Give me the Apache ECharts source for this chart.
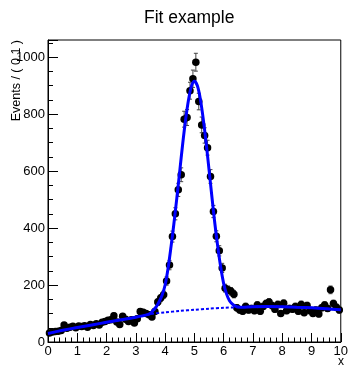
<!DOCTYPE html>
<html><head><meta charset="utf-8">
<script src="https://cdn.jsdelivr.net/npm/echarts@6/dist/echarts.min.js"></script>
<style>html,body{margin:0;padding:0;background:#fff}#c{width:351px;height:367px}</style>
</head><body><div id="c"></div>
<script>
// ---- data ----
const titleText = 'Fit example';
const yTitle = 'Events / ( 0.1 )';
const xTitle = 'x';
const binWidth = 0.1;
const xMin = 0, xMax = 10;
const yMin = 0, yMax = 1060;
const xTickLabels = [0,1,2,3,4,5,6,7,8,9,10];
const yTickLabels = [0,200,400,600,800,1000];
// event counts per bin (100 bins of 0.1)
const counts = [
  32,35,37,38,40,60,48,52,55,50,
  56,54,57,52,61,58,64,60,69,72,
  76,78,92,70,61,90,80,72,78,67,
  82,107,104,100,96,88,107,140,154,166,
  214,270,370,450,534,587,782,788,882,924,
  982,844,762,725,682,581,458,371,320,260,
  189,183,178,168,120,112,108,125,112,118,
  110,130,108,125,135,140,128,115,132,100,
  136,110,118,115,125,108,132,103,128,110,
  100,112,98,120,130,118,183,135,122,112
];
// total fit curve
const fitX = [0,0.5,1,1.5,2,2.5,3,3.4,3.5,3.6,3.7,3.8,3.9,4.0,4.1,4.2,4.3,4.4,4.5,4.6,4.7,4.8,4.9,5.0,5.1,5.2,5.3,5.4,5.5,5.6,5.7,5.8,5.9,6.0,6.1,6.2,6.3,6.4,6.5,6.6,7,7.5,8,8.5,9,9.5,10];
const fitY = [30,41,51,60,69,78,87,96,101,112,124,142,165,200,258,333,415,505,600,695,780,850,898,915,900,855,785,700,605,508,415,333,262,205,168,145,133,126,123,122,124,125,124,122,120,117,113];
// background component (dashed)
const bgX = [0,0.5,1,1.5,2,2.5,3,3.5,4,4.5,5,5.5,6,6.5,7,7.5,8,8.5,9,9.5,10];
const bgY = [30,41,51,60,69,78,87,98,104,109,113,117,120,122,124,125,124,122,120,117,113];

// ---- chart ----
const points = counts.map((c, i) => [xMin + binWidth * (i + 0.5), c]);
const errData = points.map(p => [p[0], p[1], Math.sqrt(p[1])]);
const fitData = fitX.map((x, i) => [x, fitY[i]]);
const bgData = bgX.map((x, i) => [x, bgY[i]]);
const FONT = 'Liberation Sans, Arial, Helvetica, sans-serif';

const chart = echarts.init(document.getElementById('c'), null, {renderer: 'canvas'});
chart.setOption({
  animation: false,
  backgroundColor: '#fff',
  title: {
    text: titleText, left: 139, top: 4,
    textStyle: {fontSize: 17.5, fontWeight: 'normal', color: '#000', fontFamily: FONT}
  },
  grid: {left: 48, right: 7, top: 40, bottom: 25, show: true, borderColor: '#000', borderWidth: 1, backgroundColor: 'transparent'},
  xAxis: [{
    type: 'value', min: xMin, max: xMax, interval: 1, position: 'bottom',
    axisLine: {show: true, lineStyle: {color: '#000', width: 1}},
    axisTick: {show: true, inside: true, length: 9, lineStyle: {color: '#000', width: 1}},
    minorTick: {show: true, splitNumber: 5, length: 4.5, lineStyle: {color: '#000', width: 1}},
    axisLabel: {color: '#000', fontSize: 13, fontFamily: FONT, margin: 3,
      formatter: v => xTickLabels.includes(v) ? String(v) : ''},
    splitLine: {show: false}
  }],
  yAxis: [{
    type: 'value', min: yMin, max: yMax, interval: 50, position: 'left',
    axisLine: {show: true, lineStyle: {color: '#000', width: 1}},
    axisTick: {show: true, inside: true, length: 5, lineStyle: {color: '#000', width: 1}},
    axisLabel: {color: '#000', fontSize: 13, fontFamily: FONT, margin: 3, showMaxLabel: false,
      formatter: v => yTickLabels.includes(v) ? String(v) : ''},
    splitLine: {show: false}
  }, {
    type: 'value', min: yMin, max: yMax, interval: 200, position: 'left',
    axisLine: {show: false},
    axisTick: {show: true, inside: true, length: 10, lineStyle: {color: '#000', width: 1}},
    axisLabel: {show: false},
    splitLine: {show: false}
  }],
  graphic: [
    {type: 'text', x: 17, y: 40, rotation: Math.PI / 2,
     style: {text: yTitle, font: '12.5px ' + FONT, fill: '#000', textAlign: 'right', textVerticalAlign: 'middle'}},
    {type: 'text', x: 341, y: 362,
     style: {text: xTitle, font: '12px ' + FONT, fill: '#000', textAlign: 'center', textVerticalAlign: 'middle'}}
  ],
  series: [
    {
      type: 'custom', xAxisIndex: 0, yAxisIndex: 0, z: 2,
      encode: {x: 0, y: 1},
      data: errData,
      renderItem: (params, api) => {
        const x = api.value(0), y = api.value(1), e = api.value(2);
        const t = api.coord([x, y + e]);
        const b = api.coord([x, y - e]);
        const hw = 2;
        const st = {stroke: '#444', lineWidth: 1};
        return {type: 'group', children: [
          {type: 'line', shape: {x1: t[0], y1: t[1], x2: b[0], y2: b[1]}, style: st},
          {type: 'line', shape: {x1: t[0] - hw, y1: t[1], x2: t[0] + hw, y2: t[1]}, style: st},
          {type: 'line', shape: {x1: b[0] - hw, y1: b[1], x2: b[0] + hw, y2: b[1]}, style: st}
        ]};
      }
    },
    {
      type: 'scatter', xAxisIndex: 0, yAxisIndex: 0, z: 3,
      data: points, symbol: 'circle', symbolSize: 7.5,
      itemStyle: {color: '#000', opacity: 1}
    },
    {
      type: 'line', xAxisIndex: 0, yAxisIndex: 0, z: 4,
      data: bgData, showSymbol: false, smooth: 0.3,
      lineStyle: {color: '#0000ff', width: 2, type: [3, 2]}
    },
    {
      type: 'line', xAxisIndex: 0, yAxisIndex: 0, z: 5,
      data: fitData, showSymbol: false, smooth: 0.3,
      lineStyle: {color: '#0000ff', width: 3}
    }
  ]
});
</script>
</body></html>
